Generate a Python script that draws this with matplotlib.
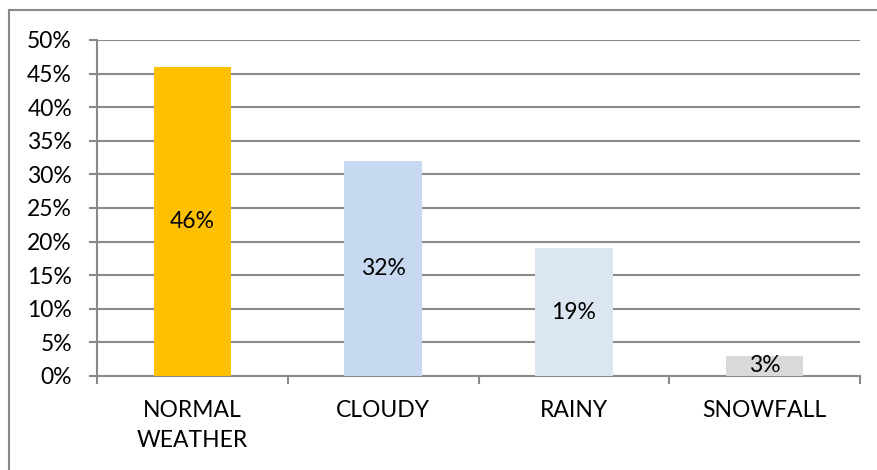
import matplotlib.pyplot as plt
import numpy as np
from matplotlib.patches import Rectangle
from matplotlib.ticker import PercentFormatter

categories = ["NORMAL\nWEATHER", "CLOUDY", "RAINY", "SNOWFALL"]
values = [46, 32, 19, 3]
bar_colors = ["#FFC000", "#C6D9F1", "#DCE6F2", "#D9D9D9"]
y_ticks = [0, 5, 10, 15, 20, 25, 30, 35, 40, 45, 50]

plt.rcParams['font.family'] = ['Lato', 'DejaVu Sans']
grid_color = "#898989"
fs = 16.5

fig = plt.figure(figsize=(8.77, 4.70), dpi=100)
W, H = 877, 470
ax = fig.add_axes([97 / W, 1 - 376 / H, (860 - 97) / W, (376 - 40) / H])

x = np.arange(len(categories))
bars = ax.bar(x, values, width=0.405, color=bar_colors, zorder=3)
ax.bar_label(bars, labels=[f"{v}%" for v in values], label_type="center",
             fontsize=fs, color="black")

ax.set_xlim(-0.5, len(categories) - 0.5)
ax.set_ylim(0, 50)
ax.set_yticks(y_ticks)
ax.yaxis.set_major_formatter(PercentFormatter(decimals=0))
ax.grid(True, axis="y", color=grid_color, linewidth=1.5, zorder=0)

ax.set_xticks(np.arange(-0.5, len(categories)), minor=False)
ax.set_xticklabels([])
ax.set_xticks(x, minor=True)
ax.set_xticklabels(categories, minor=True, fontsize=fs, linespacing=1.55)
ax.tick_params(axis="x", which="major", length=6, width=1.5, color=grid_color, direction="out")
ax.tick_params(axis="x", which="minor", length=0, pad=17)
ax.tick_params(axis="y", length=6, width=1.5, color=grid_color, labelsize=fs, pad=12)

for side in ["top", "right"]:
    ax.spines[side].set_visible(False)
for side in ["left", "bottom"]:
    ax.spines[side].set_color(grid_color)
    ax.spines[side].set_linewidth(1.5)

fig.patches.append(Rectangle((9 / W, -0.1), 1.2, 1 - 10 / H + 0.1,
                             transform=fig.transFigure, fill=False,
                             edgecolor="#888888", linewidth=1.5))

fig.savefig("out.png", dpi=100)
